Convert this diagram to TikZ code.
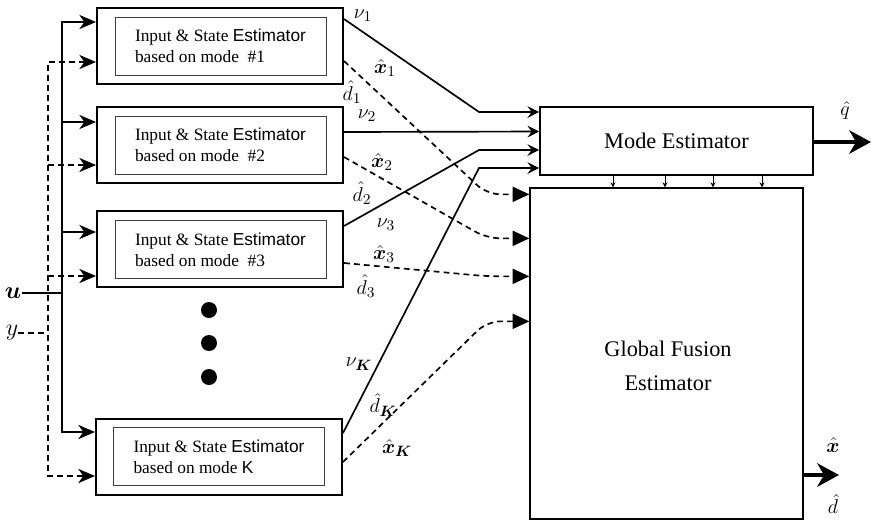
\documentclass[tikz,border=0pt]{standalone}
\usepackage{amsmath}
\usepackage{bm}
\usepackage{fontspec}
\setmainfont{Liberation Serif}
\setsansfont{Liberation Sans}
\usetikzlibrary{arrows.meta,positioning,calc}
\tikzset{%
   outerbox/.style={
      draw,
      line width=1.2pt,
      inner sep=0pt,
      minimum width=147.6pt,
      minimum height=45.6pt
   },
   innerbox/.style={
      draw=black!75,
      line width=0.6pt,
      inner sep=0pt,
      minimum width=126.6pt,
      minimum height=34.8pt,
      align=left,
      font=\fontsize{10.4}{12.6}\selectfont
   },
   modebox/.style={
      draw,
      line width=1pt,
      minimum width=163.8pt,
      minimum height=40.8pt,
      font=\fontsize{13.4}{16}\selectfont
   },
   gfebox/.style={
      draw,
      line width=0.8pt,
      minimum width=163.8pt,
      minimum height=198.6pt
   },
   gfetext/.style={
      align=center,
      font=\fontsize{13.4}{20}\selectfont
   },
   sig/.style={
      line width=1pt
   },
   est/.style={
      line width=1pt,
      dash pattern=on 3.5pt off 2.5pt
   },
   inarrow/.style={
      -{Stealth[length=10pt,width=8.5pt,inset=3pt]}
   },
   modearrow/.style={
      -{Stealth[length=7pt,width=7pt,inset=2.5pt]}
   },
   fusearrow/.style={
      -{Triangle[length=10pt,width=9pt]}
   },
   tinyarrow/.style={
      line width=0.6pt,
      -{Stealth[length=3pt,width=3pt]}
   },
   outarrow/.style={
      line width=2.4pt,
      -{Stealth[length=13pt,width=14pt,inset=4pt]}
   },
   lbl/.style={
      inner sep=0pt,
      font=\fontsize{13}{15}\selectfont
   },
   bigdot/.style={
      circle,
      inner sep=0mm,
      minimum size=9.6pt,
      fill=black
   },
}

\begin{document}
\begin{tikzpicture}[x=0.6pt, y=-0.6pt]
   \useasboundingbox (0,0) rectangle (871,521);

   \node[outerbox] (est1) at (220,46) {};
   \node[innerbox] (est1in) at (220.5,46) {Input \& State \textsf{Estimator}\\based on mode~~\#1};
   \node[outerbox] (est2) at (220,144.5) {};
   \node[innerbox] (est2in) at (220.5,145) {Input \& State \textsf{Estimator}\\based on mode~~\#2};
   \node[outerbox] (est3) at (220,248.5) {};
   \node[innerbox] (est3in) at (220.5,249.5) {Input \& State \textsf{Estimator}\\based on mode~~\#3};
   \node[outerbox] (estK) at (219,456.5) {};
   \node[innerbox] (estKin) at (219,456.5) {Input \& State \textsf{Estimator}\\based on mode \textsf{K}};

   \node[bigdot] (dot1) at (209,310) {};
   \node[bigdot] (dot2) at (209,343) {};
   \node[bigdot] (dot3) at (209,377) {};

   \node[modebox] (mode) at (676.5,141) {Mode Estimator};
   \node[gfebox] (gfe) at (666.5,353.5) {};
   \node[gfetext] (gfetxt) at (668,366) {Global Fusion\\Estimator};

   \node[lbl, font=\fontsize{14}{16}\selectfont] (u) at (13,293) {$\bm{u}$};
   \node[lbl, font=\fontsize{14}{16}\selectfont] (y) at (12,333) {$y$};
   \coordinate (ubus) at (62,0);
   \coordinate (ybus) at (48,0);
   \coordinate (bendm) at (479,0);
   \coordinate (bendg) at (487,0);

   \foreach \b/\s/\d in {1/-24/16, 2/-22.5/20.5, 3/-16.5/27.5, K/-24.5/19.5}{
      \coordinate (in\b s) at ($(est\b.west)+(0,\s)$);
      \coordinate (in\b d) at ($(est\b.west)+(0,\d)$);
   }
   \foreach \k/\d in {1/-29, 3/9, K/27}{
      \coordinate (m\k) at ($(mode.west)+(0,\d)$);
   }
   \foreach \k/\d in {1/7, 2/51, 3/89, K/134}{
      \coordinate (g\k) at ($(gfe.north west)+(0,\d)$);
   }

   \draw[sig, {Stealth[length=10pt,width=8.5pt,inset=3pt]}-{Stealth[length=10pt,width=8.5pt,inset=3pt]}]
      (in1s) -- (in1s -| ubus) -- (inKs -| ubus) -- (inKs);
   \draw[est, {Stealth[length=10pt,width=8.5pt,inset=3pt]}-{Stealth[length=10pt,width=8.5pt,inset=3pt]}]
      (in1d) -- (in1d -| ybus) -- (inKd -| ybus) -- (inKd);
   \draw[sig, inarrow] (in2s -| ubus) -- (in2s);
   \draw[sig, inarrow] (in3s -| ubus) -- (in3s);
   \draw[est, inarrow] (in2d -| ybus) -- (in2d);
   \draw[est, inarrow] (in3d -| ybus) -- (in3d);
   \draw[sig] (u) -- (u -| ubus);
   \draw[est] (y) -- (y -| ybus);

   \draw[sig, modearrow] ($(est1.north east)+(0,12)$) -- (m1 -| bendm) -- (m1);
   \draw[sig, modearrow] ($(est2.east)+(0,-12.5)$) -- ($(mode.west)+(0,-9.5)$);
   \draw[sig, modearrow] ($(est3.east)+(0,-22.5)$) -- (m3 -| bendm) -- (m3);
   \draw[sig, modearrow] ($(estK.east)+(0,-23.5)$) -- (mK -| bendm) -- (mK);

   \draw[est, fusearrow, rounded corners=8pt] ($(est1.east)+(0,15)$) -- (g1 -| bendg) -- (g1);
   \draw[est, fusearrow, rounded corners=8pt] ($(est2.east)+(0,12.5)$) -- (g2 -| bendg) -- (g2);
   \draw[est, fusearrow, rounded corners=8pt] ($(est3.east)+(0,14.5)$) -- (g3 -| bendg) -- (g3);
   \draw[est, fusearrow, rounded corners=8pt] ($(estK.east)+(0,5.5)$) -- (gK -| bendg) -- (gK);

   \foreach \xx in {613,665,713,762}{
      \draw[tinyarrow] (mode.south -| \xx,0) -- (gfe.north -| \xx,0);
   }

   \coordinate (qout) at (871,142);
   \coordinate (xout) at (839,475);
   \draw[outarrow] (mode.east |- qout) -- (qout);
   \draw[outarrow] (gfe.east |- xout) -- (xout);

   \node[lbl] (lq) at (845,110) {$\hat{q}$};
   \node[lbl] (lx) at (833,445) {$\hat{\bm{x}}$};
   \node[lbl] (ld) at (833,504) {$\hat{d}$};

   \node[lbl] (nu1) at (363,16) {$\nu_1$};
   \node[lbl] (x1) at (385,68) {$\hat{\bm{x}}_1$};
   \node[lbl] (d1) at (352,92) {$\hat{d}_1$};
   \node[lbl] (nu2) at (367,116) {$\nu_2$};
   \node[lbl] (x2) at (382,162) {$\hat{\bm{x}}_2$};
   \node[lbl] (d2) at (362,193) {$\hat{d}_2$};
   \node[lbl] (nu3) at (386,225) {$\nu_3$};
   \node[lbl] (x3) at (384,254) {$\hat{\bm{x}}_3$};
   \node[lbl] (d3) at (366,286) {$\hat{d}_3$};
   \node[lbl] (nuK) at (359,364) {$\nu_{\bm{K}}$};
   \node[lbl] (dK) at (383,405) {$\hat{d}_{\bm{K}}$};
   \node[lbl] (xK) at (397,448) {$\hat{\bm{x}}_{\bm{K}}$};
\end{tikzpicture}
\end{document}
